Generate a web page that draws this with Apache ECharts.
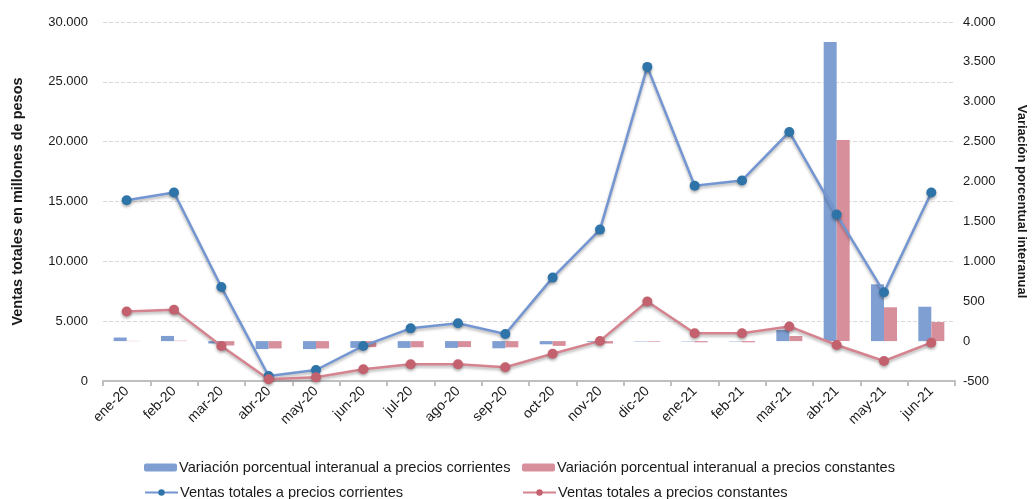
<!DOCTYPE html>
<html>
<head>
<meta charset="utf-8">
<script src="https://cdn.jsdelivr.net/npm/echarts@6.0.0/dist/echarts.min.js"></script>
<style>
html,body{margin:0;padding:0;background:#fff;}
#chart{width:1032px;height:499px;}
</style>
</head>
<body>
<div id="chart"></div>
<script>
var categories = ['ene-20','feb-20','mar-20','abr-20','may-20','jun-20','jul-20','ago-20','sep-20','oct-20','nov-20','dic-20','ene-21','feb-21','mar-21','abr-21','may-21','jun-21'];
var varCorrientes = [45, 65, -30, -100, -100, -85, -85, -85, -90, -40, -10, -5, -5, -5, 140, 3750, 712, 431];
var varConstantes = [3, 5, -55, -92, -92, -75, -78, -75, -78, -60, -30, -8, -15, -15, 64, 2520, 424, 239];
var ventasCorrientes = [15100, 15750, 7850, 420, 920, 2930, 4400, 4820, 3930, 8640, 12650, 26250, 16310, 16760, 20810, 13910, 7410, 15750];
var ventasConstantes = [5810, 5950, 2920, 140, 310, 980, 1400, 1400, 1150, 2280, 3350, 6650, 3990, 3990, 4560, 3010, 1670, 3200];

var nameBarCorr = 'Variación porcentual interanual a precios corrientes';
var nameBarCons = 'Variación porcentual interanual a precios constantes';
var nameLineCorr = 'Ventas totales a precios corrientes';
var nameLineCons = 'Ventas totales a precios constantes';

function fmt(v){
  var s = Math.abs(v).toString().replace(/\B(?=(\d{3})+(?!\d))/g, '.');
  return (v < 0 ? '-' : '') + s;
}
var FONT = "'Liberation Sans', Arial, sans-serif";
function leg(name, left, top){
  return {left: left, top: top, itemWidth: 33, itemHeight: 8,
    textStyle: {fontSize: 14.6, color: '#1a1a1a', fontFamily: FONT, padding: [0,0,0,-3]},
    data: [name]};
}
var chart = echarts.init(document.getElementById('chart'));
chart.setOption({
  animation: false,
  textStyle: {fontFamily: FONT},
  grid: {left: 103, right: 77, top: 22, bottom: 118, containLabel: false, outerBoundsMode: 'none'},
  legend: [
    leg(nameBarCorr, 139, 455),
    leg(nameLineCorr, 139, 480),
    leg(nameBarCons, 517, 455),
    leg(nameLineCons, 517, 480)
  ],
  xAxis: {
    type: 'category',
    data: categories,
    boundaryGap: true,
    axisLine: {show: true, lineStyle: {color: '#bfbfbf', width: 2}},
    axisTick: {show: true, length: 5, lineStyle: {color: '#bfbfbf', width: 2}},
    axisLabel: {rotate: 45, fontSize: 14, color: '#1a1a1a', fontFamily: FONT, margin: 8, interval: 0}
  },
  yAxis: [
    {type: 'value', min: 0, max: 30000, interval: 5000, position: 'left',
     name: 'Ventas totales en millones de pesos', nameLocation: 'middle', nameGap: 78,
     nameTextStyle: {fontSize: 14.5, fontWeight: 'bold', color: '#1a1a1a', fontFamily: FONT},
     axisLine: {show: false}, axisTick: {show: false},
     axisLabel: {fontSize: 13, color: '#1a1a1a', margin: 15, formatter: fmt, fontFamily: FONT},
     splitLine: {show: true, lineStyle: {color: '#d9d9d9', type: 'dashed'}}},
    {type: 'value', min: -500, max: 4000, interval: 500, position: 'right',
     name: 'Variación porcentual interanual', nameLocation: 'middle', nameGap: 60, nameRotate: -90,
     nameTextStyle: {fontSize: 13, fontWeight: 'bold', color: '#1a1a1a', fontFamily: FONT},
     axisLine: {show: false}, axisTick: {show: false},
     axisLabel: {fontSize: 13, color: '#1a1a1a', margin: 8, formatter: fmt, fontFamily: FONT},
     splitLine: {show: false}}
  ],
  series: [
    {name: nameBarCorr, type: 'bar', yAxisIndex: 1, data: varCorrientes, barWidth: 13, barGap: '0%',
     itemStyle: {color: '#7f9fd2'}},
    {name: nameBarCons, type: 'bar', yAxisIndex: 1, data: varConstantes, barWidth: 13, barGap: '0%',
     itemStyle: {color: '#d88f9c'}},
    {name: nameLineCorr, type: 'line', yAxisIndex: 0, data: ventasCorrientes,
     symbol: 'circle', symbolSize: 10, z: 5,
     lineStyle: {color: '#7396d2', width: 2.5, shadowColor: 'rgba(0,0,0,0.3)', shadowBlur: 3, shadowOffsetY: 2},
     itemStyle: {color: '#2f74a8', shadowColor: 'rgba(0,0,0,0.3)', shadowBlur: 3, shadowOffsetY: 2}},
    {name: nameLineCons, type: 'line', yAxisIndex: 0, data: ventasConstantes,
     symbol: 'circle', symbolSize: 10, z: 5,
     lineStyle: {color: '#d4838f', width: 2.5, shadowColor: 'rgba(0,0,0,0.3)', shadowBlur: 3, shadowOffsetY: 2},
     itemStyle: {color: '#c4616f', shadowColor: 'rgba(0,0,0,0.3)', shadowBlur: 3, shadowOffsetY: 2}}
  ]
});
</script>
</body>
</html>
